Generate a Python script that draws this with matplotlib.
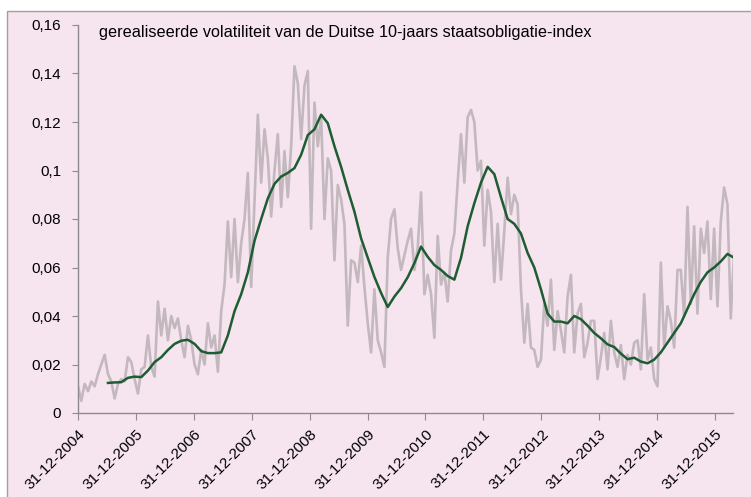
import pandas as pd
import matplotlib.pyplot as plt
import matplotlib.dates as mdates
from matplotlib.patches import Rectangle

plt.rcParams['font.family'] = ['Liberation Sans', 'DejaVu Sans']

# realised volatility, sampled every 3 weeks from 31-12-2004
vol_start = '2004-12-31'
vol_values = [
    0.011, 0.005, 0.012, 0.009, 0.013, 0.011, 0.016, 0.020, 0.024, 0.016,
    0.013, 0.006, 0.012, 0.014, 0.013, 0.023, 0.021, 0.014, 0.008, 0.018,
    0.019, 0.032, 0.019, 0.015, 0.046, 0.032, 0.043, 0.030, 0.040, 0.035,
    0.039, 0.030, 0.023, 0.036, 0.030, 0.020, 0.016, 0.026, 0.020, 0.037,
    0.027, 0.032, 0.017, 0.042, 0.053, 0.079, 0.056, 0.080, 0.054, 0.070,
    0.080, 0.099, 0.052, 0.088, 0.123, 0.095, 0.117, 0.105, 0.081, 0.100,
    0.115, 0.085, 0.108, 0.089, 0.110, 0.143, 0.136, 0.113, 0.135, 0.141,
    0.076, 0.128, 0.110, 0.122, 0.080, 0.105, 0.100, 0.063, 0.094, 0.088,
    0.078, 0.036, 0.063, 0.062, 0.054, 0.069, 0.052, 0.037, 0.025, 0.051,
    0.030, 0.025, 0.019, 0.064, 0.080, 0.084, 0.068, 0.059, 0.065, 0.071,
    0.076, 0.059, 0.068, 0.091, 0.049, 0.057, 0.049, 0.031, 0.073, 0.053,
    0.058, 0.046, 0.067, 0.074, 0.095, 0.115, 0.095, 0.122, 0.125, 0.120,
    0.100, 0.104, 0.069, 0.092, 0.083, 0.054, 0.078, 0.055, 0.075, 0.097,
    0.082, 0.090, 0.086, 0.051, 0.029, 0.045, 0.027, 0.026, 0.019, 0.022,
    0.045, 0.036, 0.055, 0.026, 0.042, 0.034, 0.025, 0.048, 0.057, 0.025,
    0.041, 0.045, 0.023, 0.029, 0.038, 0.038, 0.014, 0.023, 0.033, 0.018,
    0.038, 0.025, 0.019, 0.028, 0.014, 0.024, 0.020, 0.029, 0.030, 0.018,
    0.049, 0.022, 0.027, 0.014, 0.011, 0.062, 0.027, 0.044, 0.038, 0.027,
    0.059, 0.059, 0.040, 0.085, 0.045, 0.077, 0.041, 0.076, 0.066, 0.079,
    0.047, 0.076, 0.044, 0.079, 0.093, 0.086, 0.039, 0.066,
]

# moving average, sampled every 6 weeks
ma_start = '2005-07-08'
ma_values = [
    0.0124, 0.0126, 0.0127, 0.0145, 0.0150, 0.0148, 0.0175, 0.0210, 0.0230, 0.0260,
    0.0285, 0.0298, 0.0302, 0.0285, 0.0255, 0.0247, 0.0247, 0.0250, 0.0320, 0.0420,
    0.0490, 0.0580, 0.0710, 0.0800, 0.0885, 0.0945, 0.0975, 0.0990, 0.1010, 0.1065,
    0.1146, 0.1170, 0.1230, 0.1195, 0.1100, 0.1015, 0.0920, 0.0830, 0.0720, 0.0640,
    0.0561, 0.0495, 0.0437, 0.0480, 0.0515, 0.0560, 0.0618, 0.0686, 0.0644, 0.0610,
    0.0590, 0.0565, 0.0550, 0.0640, 0.0770, 0.0865, 0.0950, 0.1015, 0.0985, 0.0890,
    0.0800, 0.0780, 0.0740, 0.0660, 0.0600, 0.0510, 0.0410, 0.0377, 0.0377, 0.0370,
    0.0400, 0.0387, 0.0360, 0.0330, 0.0308, 0.0283, 0.0272, 0.0245, 0.0222, 0.0228,
    0.0212, 0.0205, 0.0220, 0.0250, 0.0290, 0.0330, 0.0370, 0.0430, 0.0490, 0.0541,
    0.0580, 0.0600, 0.0625, 0.0656, 0.0640,
]

y_ticks = [0, 0.02, 0.04, 0.06, 0.08, 0.10, 0.12, 0.14, 0.16]
y_labels = ['0', '0,02', '0,04', '0,06', '0,08', '0,1', '0,12', '0,14', '0,16']
x_ticks = pd.to_datetime([f'{y}-12-31' for y in range(2004, 2016)])

title = 'gerealiseerde volatiliteit van de Duitse 10-jaars staatsobligatie-index'

vol_dates = pd.date_range(vol_start, periods=len(vol_values), freq='21D')
ma_dates = pd.date_range(ma_start, periods=len(ma_values), freq='42D')

pink = '#F6E4EE'
axis_grey = '#8C8C8C'

fig = plt.figure(figsize=(7.51, 4.97), dpi=100, facecolor='white')
# chart area with grey border
fig.patches.append(Rectangle((7 / 751, -0.05), 1.0, 0.05 + 1 - 11 / 497,
                             transform=fig.transFigure, facecolor=pink,
                             edgecolor='#A0A0A0', linewidth=1, zorder=-1))

ax = fig.add_axes([78 / 751, 84 / 497, 655 / 751, 388 / 497])
ax.set_zorder(1)
ax.patch.set_alpha(0)

ax.plot(vol_dates, vol_values, color='#C4B8BF', linewidth=1.9)
ax.plot(ma_dates, ma_values, color='#1E5C33', linewidth=1.8)

ax.set_ylim(0, 0.16)
ax.set_xlim(pd.Timestamp('2004-12-31'), pd.Timestamp('2016-04-22'))
ax.set_yticks(y_ticks)
ax.set_yticklabels(y_labels)
ax.set_xticks(x_ticks)
ax.xaxis.set_major_formatter(mdates.DateFormatter('%d-%m-%Y'))

for side in ['top', 'right']:
    ax.spines[side].set_visible(False)
for side in ['left', 'bottom']:
    ax.spines[side].set_color(axis_grey)
    ax.spines[side].set_linewidth(1)

ax.tick_params(axis='y', direction='out', length=4, color=axis_grey,
               labelsize=11, pad=8)
ax.tick_params(axis='x', direction='out', length=5, color=axis_grey,
               labelsize=11, pad=5)
plt.setp(ax.get_xticklabels(), rotation=45, ha='right', va='top',
         rotation_mode='anchor')

fig.text(99 / 751, 1 - 33 / 497, title, fontsize=11.7, va='center', ha='left',
         zorder=2)

plt.savefig('out.png', dpi=100)
